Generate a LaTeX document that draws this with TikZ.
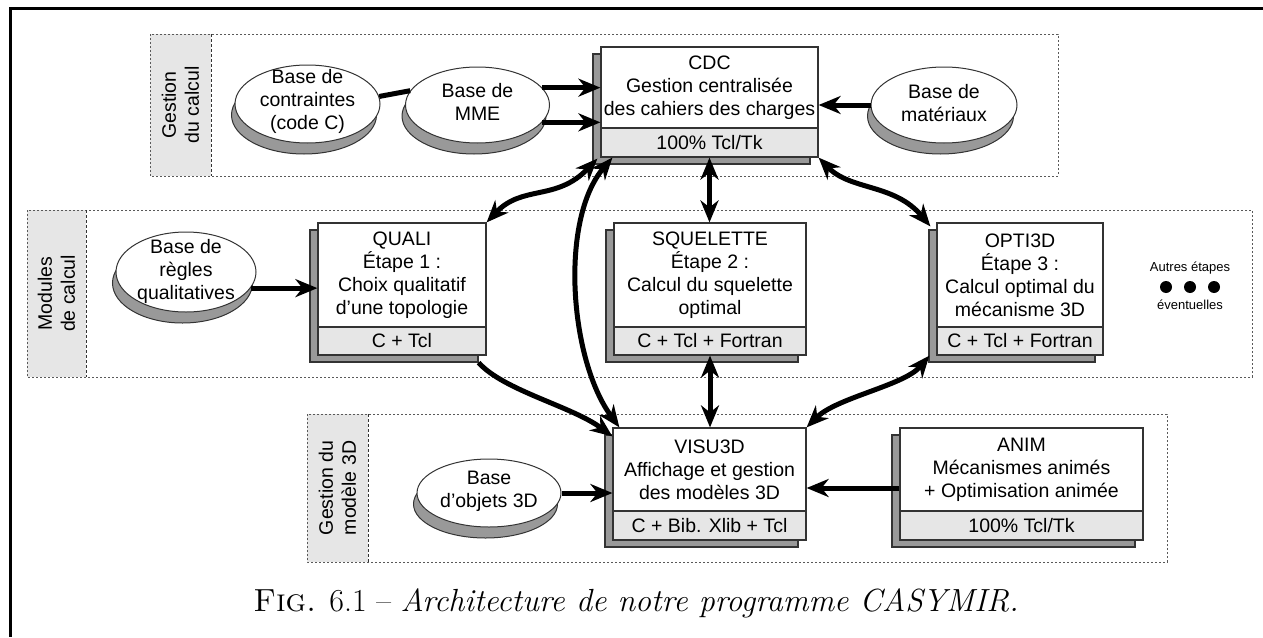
\documentclass[tikz,border=0pt]{standalone}
\usepackage{fontspec}
\newfontfamily\arial{Liberation Sans}
\usetikzlibrary{shapes.geometric,arrows.meta,calc}
\definecolor{shadowgray}{HTML}{999999}
\definecolor{partgray}{HTML}{E6E6E6}
\definecolor{edgegray}{HTML}{333333}
\newcommand\modbox[8]{%
  \filldraw[shadowst] ({#2-8},{#4+7}) rectangle ({#3-8},{#6+7});
  \node[boxst, minimum width={#3-#2}, minimum height={#6-#4}] (#1) at ({(#2+#3)/2},{(#4+#6)/2}) {};
  \filldraw[partst] (#2,#5) rectangle (#3,#6);
  \node[txt] (#1-t) at ({(#2+#3)/2},{(#4+#5)/2}) {#7};
  \node[txt] (#1-b) at ({(#2+#3)/2},{(#5+#6)/2}) {#8};
}
\newcommand\basenode[7]{%
  \filldraw[eshadow] ({#2-3.5},{#3+11}) ellipse [x radius=#4, y radius=#5];
  \node[ellst, minimum width={2*#4}, minimum height={2*#5}] (#1) at (#2,#3) {};
  \node[txt] (#1-t) at (#2,{#3+#6}) {#7};
}
\newcommand\groupbox[5]{%
  \fill[partgray] (#1,#2) rectangle (#5,#4);
  \draw[grpline] (#1,#2) rectangle (#3,#4);
  \draw[divline] (#5,#2) -- (#5,#4);
}
\begin{document}
\begin{tikzpicture}[x=1pt,y=-1pt,
  txt/.style={font=\arial\fontsize{19.5}{23}\selectfont, align=center, inner sep=0pt},
  smalltxt/.style={font=\arial\fontsize{13}{15}\selectfont, inner sep=0pt},
  shadowst/.style={fill=shadowgray, draw=edgegray, line width=1.2pt},
  boxst/.style={rectangle, fill=white, draw=edgegray, line width=1.2pt, inner sep=0pt},
  partst/.style={fill=partgray, draw=edgegray, line width=1.2pt},
  eshadow/.style={fill=shadowgray, draw=edgegray, line width=1pt},
  ellst/.style={ellipse, fill=white, draw=edgegray, line width=1pt, inner sep=0pt},
  grpline/.style={draw=black!65, line width=0.9pt, dash pattern=on 2pt off 2pt},
  divline/.style={draw=black!80, line width=0.9pt, dash pattern=on 3pt off 2pt},
  tip/.tip={Stealth[length=22pt,width=18pt,inset=7pt]},
  conn/.style={line width=5pt},
  arr/.style={line width=5pt, -tip},
  dbl/.style={line width=5pt, tip-tip},
  dot/.style={circle, fill=black, minimum size=12pt, inner sep=0pt}
]
\useasboundingbox (0,0) rectangle (1263,637);
\fill[white] (0,0) rectangle (1263,637);
% frame
\draw[line width=3pt] (9,8) -- (1263,8);
\draw[line width=3pt] (10,8) -- (10,637);

% groups
\groupbox{150}{34}{1058}{176}{211}
\groupbox{27}{210}{1252}{377}{86}
\groupbox{307}{414}{1167}{562}{368}
\node[txt, rotate=90] (g1) at (180.5,105) {Gestion\\du calcul};
\node[txt, rotate=90] (g2) at (56.5,293.5) {Modules\\de calcul};
\node[txt, rotate=90] (g3) at (337.5,488) {Gestion du\\modèle 3D};

% ellipses
\basenode{contr}{307.5}{104}{72.5}{39}{-3}{Base de\\contraintes\\(code C)}
\basenode{mme}{477.5}{105}{72}{38}{-3}{Base de\\MME}
\basenode{mat}{944}{105}{73}{38}{-2}{Base de\\matériaux}
\basenode{regles}{186}{272}{70}{40}{-1}{Base de\\règles\\qualitatives}
\basenode{obj}{489}{493}{72}{34}{-2}{Base\\d’objets 3D}

% boxes
\modbox{cdc}{601}{818}{47}{128}{157}{CDC\\Gestion centralisée\\des cahiers des charges}{100\% Tcl/Tk}
\modbox{quali}{318}{486}{223}{327}{355}{QUALI\\Étape 1 :\\Choix qualitatif\\d’une topologie}{C + Tcl}
\modbox{squel}{614}{806}{223}{327}{355}{SQUELETTE\\Étape 2 :\\Calcul du squelette\\optimal}{C + Tcl + Fortran}
\modbox{opti}{937}{1103}{223}{327}{355}{OPTI3D\\Étape 3 :\\Calcul optimal du\\mécanisme 3D}{C + Tcl + Fortran}
\modbox{visu}{613}{806}{428}{511}{540}{VISU3D\\Affichage et gestion\\des modèles 3D}{C + Bib. Xlib + Tcl}
\modbox{anim}{900}{1143}{428}{511}{540}{ANIM\\Mécanismes animés\\+ Optimisation animée}{100\% Tcl/Tk}

% other steps
\node[smalltxt] (autres) at (1190,268) {Autres étapes};
\node[dot] (d1) at (1166,287) {};
\node[dot] (d2) at (1190,287) {};
\node[dot] (d3) at (1214,287) {};
\node[smalltxt] (event) at (1190,305) {éventuelles};

% connectors
\draw[conn] (contr.6) -- (mme.168);
\draw[arr] (mme.15) -- (mme.15 -| cdc.west);
\draw[arr] (mme.-15) -- (mme.-15 -| cdc.west);
\draw[arr] (mat.west) -- (mat.west -| cdc.east);
\draw[dbl] (quali.north east) .. controls +(36,-38) and +(-41,43) .. ($(cdc.south west)+(-3,1)$);
\draw[dbl] ($(visu.north west)+(7,0)$) .. controls +(-50,-68) and +(-53,62) .. ($(cdc.south west)+(12,0)$);
\draw[dbl] (cdc.south) -- (cdc.south |- squel.north);
\draw[dbl] (cdc.south east) .. controls +(32,33) and +(-36,-43) .. ($(opti.north west)+(-6,4)$);
\draw[arr] ($(quali.south east)+(-8,7)$) .. controls +(25,28) and +(-40,-30) .. ($(visu.north west)+(0,9)$);
\draw[dbl] (squel.south) -- (squel.south |- visu.north);
\draw[dbl] (visu.north east) .. controls +(30,-30) and +(-25,30) .. ($(opti.south west)+(-7,0)$);
\draw[arr] (regles.-14) -- (regles.-14 -| quali.west);
\draw[arr] (obj.east) -- (obj.east -| visu.west);
\draw[arr] ($(anim.west)+(0,4)$) -- ($(visu.east)+(0,4)$);

% caption
\node[font=\fontsize{32}{38}\selectfont, inner sep=0pt] (cap) at (636,603) {\textsc{Fig.} 6.1 -- \textit{Architecture de notre programme CASYMIR.}};
\end{tikzpicture}
\end{document}
